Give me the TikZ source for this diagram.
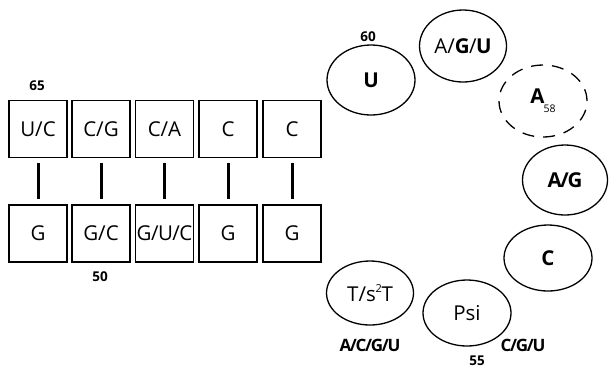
\documentclass[tikz,border=0pt]{standalone}
\usepackage{fontspec}
\setmainfont{Open Sans}
\usetikzlibrary{shapes.geometric}
\newcommand{\tsl}{\kern-1.3pt/\kern-1.3pt}
\begin{document}
\begin{tikzpicture}[x=1pt,y=-1pt,
  base/.style={draw=black,line width=1.4pt,minimum width=58pt,minimum height=57pt,inner sep=0pt,font=\fontsize{20.5}{20.5}\selectfont},
  loopnode/.style={draw=black,line width=1.3pt,ellipse,inner sep=0pt,font=\fontsize{20.5}{20.5}\selectfont},
  pairbar/.style={line width=3pt},
  numlbl/.style={font=\bfseries\fontsize{13.5}{13.5}\selectfont},
  varlbl/.style={font=\bfseries\fontsize{17}{17}\selectfont}]
\useasboundingbox (0,0) rectangle (609,368);
% top strand
\node[base] (t1) at (38,129) {U/C};
\node[base] (t2) at (101,129) {C/G};
\node[base] (t3) at (164.5,129) {C/A};
\node[base] (t4) at (228,129) {C};
\node[base] (t5) at (292,129) {C};
% bottom strand
\node[base] (b1) at (38,233.5) {G};
\node[base] (b2) at (101,233.5) {G/C};
\node[base] (b3) at (164.5,233.5) {G\kern-0.5pt/\kern-0.5pt U\kern-0.5pt/\kern-0.5pt C};
\node[base] (b4) at (228,233.5) {G};
\node[base] (b5) at (292,233.5) {G};
% pairing bars
\foreach \i in {1,...,5}{
  \draw[pairbar] ([yshift=-5pt]t\i.south) -- ([yshift=5pt]b\i.north);
}
\node[numlbl] (n65) at (37,86) {65};
\node[numlbl] (n50) at (100,277) {50};
% loop
\node[loopnode,minimum width=88pt,minimum height=70pt] (u) at (371,80) {\bfseries U};
\node[loopnode,minimum width=87pt,minimum height=72pt] (agu) at (463,46) {A/\textbf{G}\kern-0.5pt/\kern-0.5pt\textbf{U}};
\node[loopnode,dash pattern=on 12pt off 9pt,minimum width=88pt,minimum height=72pt] (a58) at (543,101) {\textbf{A}\kern-1pt\raisebox{-0.8ex}{\fontsize{10.5}{10.5}\selectfont 58}};
\node[loopnode,minimum width=85pt,minimum height=70pt] (ag) at (565,180) {\bfseries A\tsl G};
\node[loopnode,minimum width=88pt,minimum height=66pt] (c) at (548,258) {\bfseries C};
\node[loopnode,minimum width=88pt,minimum height=66pt] (psi) at (467,313) {Psi};
\node[loopnode,minimum width=87pt,minimum height=64pt] (tst) at (370,293) {T/s\kern-0.3pt\raisebox{0.75ex}{\fontsize{11}{11}\selectfont 2}\kern-0.3pt T};
\node[numlbl] (n60) at (368,37) {60};
\node[numlbl] (n55) at (477,361) {55};
\node[varlbl] (v1) at (370,345) {A\tsl C\tsl G\tsl U};
\node[varlbl] (v2) at (523,345) {C\tsl G\tsl U};
\end{tikzpicture}
\end{document}
